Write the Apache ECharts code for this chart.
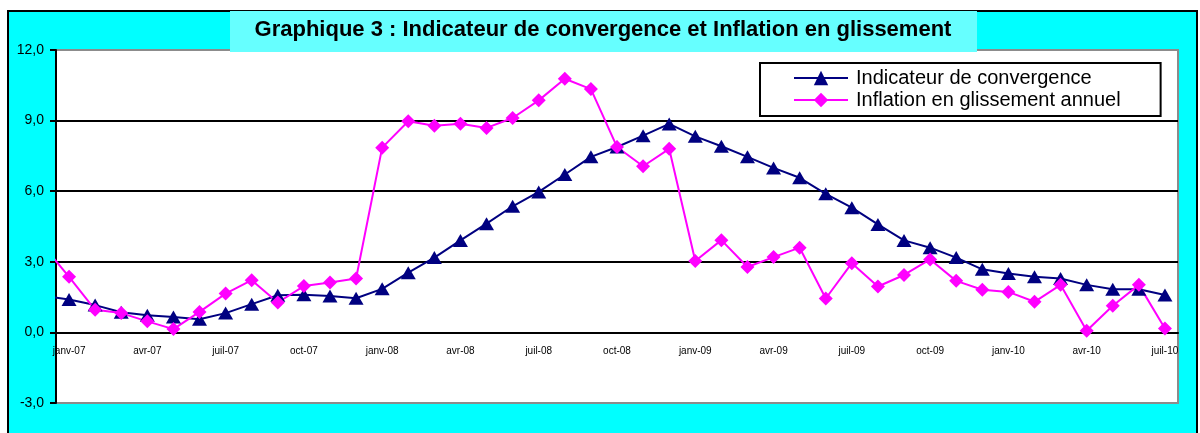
<!DOCTYPE html>
<html>
<head>
<meta charset="utf-8">
<title>Graphique 3</title>
<script src="https://cdn.jsdelivr.net/npm/echarts@6/dist/echarts.min.js"></script>
<style>
html, body { margin: 0; padding: 0; background: #fff; }
#chart { width: 1200px; height: 433px; }
</style>
</head>
<body>
<div id="chart"></div>
<script>
// mois (janv-07 .. juil-10)
const months = [
	"janv-07", "févr-07", "mars-07", "avr-07", "mai-07", "juin-07", "juil-07", "août-07", "sept-07", "oct-07", "nov-07", "déc-07",
	"janv-08", "févr-08", "mars-08", "avr-08", "mai-08", "juin-08", "juil-08", "août-08", "sept-08", "oct-08", "nov-08", "déc-08",
	"janv-09", "févr-09", "mars-09", "avr-09", "mai-09", "juin-09", "juil-09", "août-09", "sept-09", "oct-09", "nov-09", "déc-09",
	"janv-10", "févr-10", "mars-10", "avr-10", "mai-10", "juin-10", "juil-10"
];
const convergence = [
	1.40, 1.16, 0.86, 0.73, 0.65, 0.56, 0.82, 1.20, 1.58, 1.60, 1.55, 1.45,
	1.85, 2.54, 3.18, 3.91, 4.62, 5.36, 5.97, 6.71, 7.46, 7.88, 8.36, 8.86,
	8.33, 7.91, 7.46, 6.99, 6.57, 5.89, 5.30, 4.59, 3.91, 3.60, 3.18, 2.68,
	2.50, 2.36, 2.29, 2.02, 1.83, 1.83, 1.59
];
const inflation = [
	2.36, 0.96, 0.82, 0.47, 0.14, 0.87, 1.65, 2.22, 1.27, 1.97, 2.12, 2.29,
	7.85, 8.97, 8.78, 8.87, 8.69, 9.11, 9.86, 10.78, 10.34, 7.88, 7.06, 7.80,
	3.03, 3.92, 2.78, 3.20, 3.60, 1.44, 2.94, 1.95, 2.44, 3.10, 2.19, 1.81,
	1.72, 1.30, 2.02, 0.07, 1.13, 2.02, 0.17
];
// déc-06, juste avant le bord du graphique
const convergencePrev = 1.55;
const inflationPrev = 3.7;
const yMin = -3, yMax = 12, yStep = 3;

function toPoints(prev, arr) {
	// index -1 = mois précédent (coupé par le bord)
	return [[-1, prev]].concat(arr.map((v, i) => [i, v]));
}

const FONT = "'Liberation Sans', Arial, sans-serif";
const myChart = echarts.init(document.getElementById("chart"));
myChart.setOption({
	animation: false,
	backgroundColor: "#fff",
	graphic: [
		{
			type: "rect",
			z: -100,
			shape: { x: 8, y: 11, width: 1189, height: 440 },
			style: { fill: "#00FFFF", stroke: "#000", lineWidth: 2 }
		},
		{
			type: "rect",
			z: 5,
			shape: { x: 230, y: 11, width: 747, height: 41 },
			style: { fill: "#66FFFF" }
		}
	],
	title: {
		text: "Graphique 3 : Indicateur de convergence et Inflation en glissement",
		left: 603,
		top: 19,
		textAlign: "center",
		padding: 0,
		z: 6,
		textStyle: { fontFamily: FONT, fontSize: 22, fontWeight: "bold", color: "#000" }
	},
	legend: {
		left: 760,
		top: 63,
		orient: "vertical",
		backgroundColor: "#fff",
		borderColor: "#000",
		borderWidth: 2,
		padding: [5, 40, 6, 33],
		itemGap: 2,
		itemWidth: 54,
		itemHeight: 18,
		selectedMode: false,
		textStyle: { fontFamily: FONT, fontSize: 20, color: "#000", padding: [0, 0, 0, 3] },
		data: ["Indicateur de convergence", "Inflation en glissement annuel"]
	},
	grid: {
		left: 56,
		top: 50,
		right: 22,
		bottom: 30,
		show: true,
		backgroundColor: "#fff",
		borderColor: "#8c8c8c",
		borderWidth: 2
	},
	xAxis: [
		{
			type: "category",
			data: months,
			position: "bottom",
			boundaryGap: true,
			axisLine: { onZero: false, lineStyle: { color: "#000", width: 2 } },
			axisTick: {
				alignWithLabel: false,
				length: 4,
				interval: function (i) { return i % 3 === 0; },
				lineStyle: { color: "#000", width: 2 }
			},
			axisLabel: {
				interval: 2,
				margin: 14,
				fontFamily: FONT,
				fontSize: 10,
				color: "#000"
			},
			splitLine: { show: false }
		},
		{
			type: "value",
			show: false,
			position: "top",
			axisLine: { onZero: false },
			min: -0.5,
			max: months.length - 0.5
		}
	],
	yAxis: {
		type: "value",
		min: yMin,
		max: yMax,
		interval: yStep,
		axisLine: { show: true, onZero: false, lineStyle: { color: "#000", width: 2 } },
		axisTick: { show: true, length: 6, lineStyle: { color: "#000", width: 2 } },
		axisLabel: {
			margin: 12,
			fontFamily: FONT,
			fontSize: 14,
			color: "#000",
			formatter: function (v) { return v.toFixed(1).replace(".", ","); }
		},
		splitLine: {
			show: true,
			showMinLine: false,
			showMaxLine: false,
			lineStyle: { color: "#000", width: 2 }
		}
	},
	series: [
		{
			name: "Indicateur de convergence",
			type: "line",
			xAxisIndex: 1,
			clip: true,
			data: toPoints(convergencePrev, convergence),
			symbol: "triangle",
			symbolSize: [15, 13],
			showAllSymbol: true,
			color: "#000080",
			lineStyle: { color: "#000080", width: 2 },
			itemStyle: { color: "#000080" }
		},
		{
			name: "Inflation en glissement annuel",
			type: "line",
			xAxisIndex: 1,
			clip: true,
			data: toPoints(inflationPrev, inflation),
			symbol: "diamond",
			symbolSize: 14,
			showAllSymbol: true,
			color: "#FF00FF",
			lineStyle: { color: "#FF00FF", width: 2 },
			itemStyle: { color: "#FF00FF" }
		}
	]
});

// placer l'axe des mois sur la ligne du zéro
const zeroY = myChart.convertToPixel({ yAxisIndex: 0 }, 0);
const bottomY = myChart.convertToPixel({ yAxisIndex: 0 }, yMin);
myChart.setOption({
	xAxis: [{ offset: zeroY - bottomY }, {}]
});
</script>
</body>
</html>
